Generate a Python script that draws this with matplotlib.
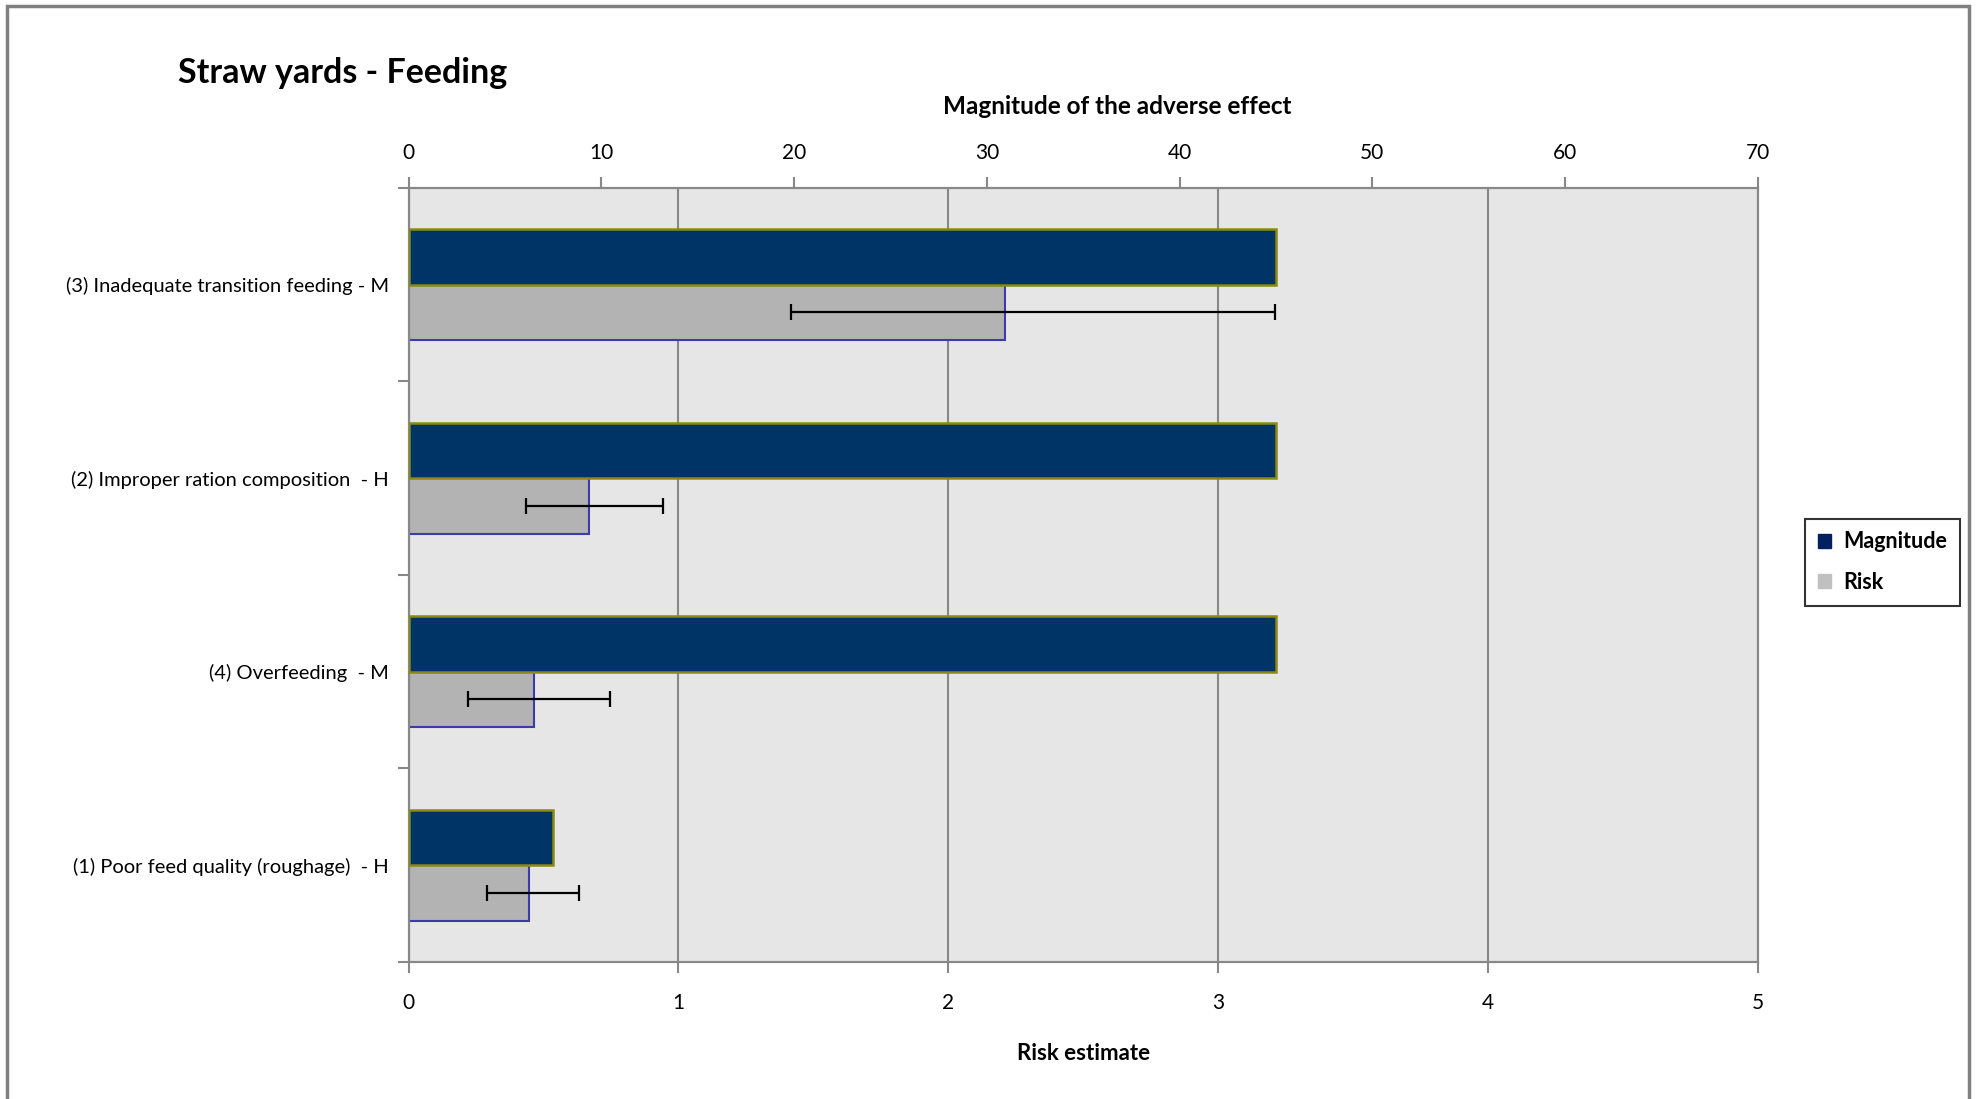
import matplotlib.pyplot as plt
from matplotlib.patches import Rectangle
import numpy as np

# categories listed bottom to top
categories = ['(1) Poor feed quality (roughage)  - H',
              '(4) Overfeeding  - M',
              '(2) Improper ration composition  - H',
              '(3) Inadequate transition feeding - M']
magnitude = [7.5, 45, 45, 45]
risk = [0.445, 0.463, 0.668, 2.21]
risk_low = [0.29, 0.22, 0.435, 1.416]
risk_high = [0.63, 0.748, 0.944, 3.21]
risk_ticks = [0, 1, 2, 3, 4, 5]
magnitude_ticks = [0, 10, 20, 30, 40, 50, 60, 70]

plt.rcParams['font.family'] = ['Lato', 'DejaVu Sans']

fig = plt.figure(figsize=(19.77, 10.99), dpi=100)
ax = fig.add_axes([0.2067, 0.1247, 0.6824, 0.7043])
ax.set_facecolor('#e6e6e6')

# outer chart border (bottom edge runs off the image)
fig.patches.append(Rectangle((0.0035, -0.01), 0.9925, 1.0045, transform=fig.transFigure,
                             fill=False, edgecolor='#808080', linewidth=2.5))

y = np.arange(len(categories))
h = 0.286

# risk bars on the bottom axis
risk = np.array(risk)
ax.barh(y - h / 2, risk, height=h, color='#b3b3b3', edgecolor='#3b3bab', linewidth=1.5, zorder=3)
ax.errorbar(np.array(risk_low) / 2 + np.array(risk_high) / 2, y - h / 2,
            xerr=(np.array(risk_high) - np.array(risk_low)) / 2,
            fmt='none', ecolor='black', elinewidth=1.6, capsize=6, capthick=1.6, zorder=4)
ax.set_xlim(0, 5)
ax.set_ylim(-0.5, len(categories) - 0.5)
ax.set_xticks(risk_ticks)
ax.set_xticklabels([str(t) for t in risk_ticks], fontsize=15)
ax.set_yticks(y)
ax.set_yticklabels(categories, fontsize=14.5)
ax.set_yticks(np.arange(len(categories) + 1) - 0.5, minor=True)
ax.tick_params(axis='y', which='major', length=0, pad=14)
ax.tick_params(axis='y', which='minor', length=8, color='#888888', width=1.5)
ax.tick_params(axis='x', length=8, color='#888888', width=1.5, pad=14)
ax.xaxis.grid(True, color='#888888', linewidth=1.5, zorder=0)
ax.set_axisbelow(True)
ax.set_xlabel('Risk estimate', fontsize=16, fontweight='bold', labelpad=22)
for s in ax.spines.values():
    s.set_color('#888888')
    s.set_linewidth(1.5)

# magnitude bars on the top axis
ax2 = ax.twiny()
ax2.barh(y + h / 2, magnitude, height=h, color='#003366', edgecolor='#8a8a10', linewidth=1.8, zorder=3)
ax2.set_xlim(0, 70)
ax2.set_xticks(magnitude_ticks)
ax2.set_xticklabels([str(t) for t in magnitude_ticks], fontsize=15)
ax2.tick_params(axis='x', length=8, color='#888888', width=1.5, pad=10)
ax2.set_xlabel('Magnitude of the adverse effect', fontsize=17.5, fontweight='bold')
ax2.xaxis.set_label_coords(0.525, 1.096)
for s in ax2.spines.values():
    s.set_color('#888888')
    s.set_linewidth(1.5)

fig.text(0.09, 0.934, 'Straw yards - Feeding', fontsize=24.5, fontweight='bold', va='center')

handles = [Rectangle((0, 0), 1, 1, color='#002060'), Rectangle((0, 0), 1, 1, color='#c0c0c0')]
leg = fig.legend(handles, ['Magnitude', 'Risk'], loc='center left',
                 bbox_to_anchor=(0.9075, 0.4885), frameon=True, fancybox=False,
                 prop={'weight': 'bold', 'size': 15.5}, handlelength=0.6, handleheight=0.6,
                 labelspacing=0.9, handletextpad=0.6, borderpad=0.6)
leg.get_frame().set_edgecolor('black')
leg.get_frame().set_linewidth(1.5)

fig.savefig('out.png', dpi=100)
